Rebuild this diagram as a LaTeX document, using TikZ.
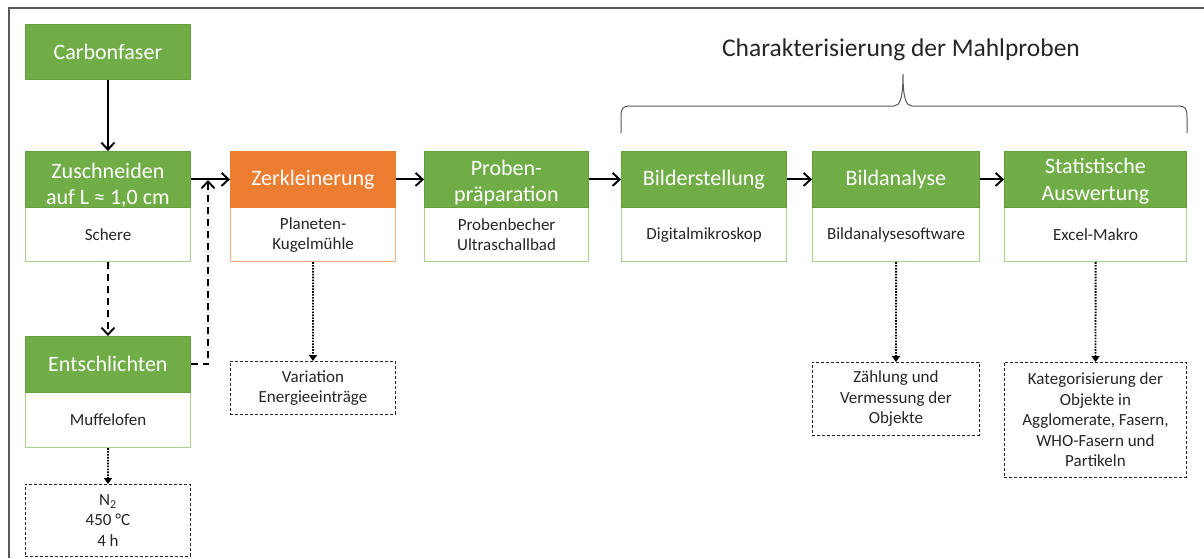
\documentclass[tikz,border=0pt]{standalone}
\usepackage{fontspec}
\setmainfont{Carlito}
\usetikzlibrary{arrows.meta}
\definecolor{cgreen}{HTML}{70AD47}
\definecolor{cgreenD}{HTML}{64A03E}
\definecolor{cgreenL}{HTML}{A9D18E}
\definecolor{corange}{HTML}{ED7D31}
\definecolor{corangeL}{HTML}{F4B183}
\definecolor{ctext}{HTML}{262626}
\definecolor{cframe}{HTML}{595959}
\tikzset{
  hdr/.style={rectangle, anchor=north west, fill=cgreen, draw=cgreenD, line width=0.8pt,
    text=white, font=\fontsize{22}{26.5}\selectfont, align=center, inner sep=0pt, minimum height=56pt},
  hdrorange/.style={hdr, fill=corange, draw=corange},
  subbox/.style={rectangle, anchor=north west, fill=white, draw=cgreenL, line width=1.2pt,
    text=ctext, font=\fontsize{17}{20}\selectfont, align=center, inner sep=0pt, minimum height=54pt},
  subboxorange/.style={subbox, draw=corangeL},
  note/.style={rectangle, anchor=north west, draw=ctext, line width=0.9pt, dash pattern=on 3pt off 2pt,
    text=ctext, font=\fontsize{17}{20.5}\selectfont, align=center, inner sep=0pt},
  arr/.style={line width=1.9pt, -{Straight Barb[length=7pt,width=13pt]}},
  darr/.style={arr, dash pattern=on 7pt off 5pt},
  parr/.style={line width=1.9pt, dash pattern=on 1.6pt off 1.3pt, -{Triangle[length=6pt,width=8pt]}},
  bracestyle/.style={line width=1pt, draw=cframe},
  titlestyle/.style={text=ctext, font=\fontsize{25.5}{30}\selectfont, inner sep=0pt},
  framestyle/.style={line width=1.3pt, draw=cframe},
}
\begin{document}
\begin{tikzpicture}[x=1pt, y=-1pt]
\useasboundingbox (0,0) rectangle (1204,558);
\draw[framestyle] (9,558) -- (9,8) -- (1204,8);

% left column
\node[hdr, minimum width=165pt, minimum height=55pt] (carbon) at (25,24) {Carbonfaser};
\node[subbox, minimum width=165pt] (zuschS) at (25,207) {Schere};
\node[hdr, minimum width=165pt] (zusch) at (25,151) {\raisebox{-6pt}[\height][\depth]{\parbox{160pt}{\centering Zuschneiden\\auf L ≈ 1,0 cm}}};
\node[subbox, minimum width=165pt, minimum height=55pt] (entS) at (25,392) {Muffelofen};
\node[hdr, minimum width=165pt] (ent) at (25,336) {Entschlichten};
\node[note, minimum width=165pt, minimum height=72pt] (n2) at (25,484) {N\textsubscript{2}\\450 °C\\4 h};

% Zerkleinerung
\node[subboxorange, minimum width=165pt] (zerkS) at (230,207) {Planeten-\\Kugelmühle};
\node[hdrorange, minimum width=165pt] (zerk) at (230,151) {Zerkleinerung};
\node[note, minimum width=165pt, minimum height=53pt] (var) at (230,361) {Variation\\Energieeinträge};

% Probenpräparation
\node[subbox, minimum width=164pt] (probS) at (424,207) {Probenbecher\\Ultraschallbad};
\node[hdr, minimum width=164pt] (prob) at (424,151) {\raisebox{-3pt}[\height][\depth]{\parbox{160pt}{\centering Proben-\\präparation}}};

% Bilderstellung
\node[subbox, minimum width=165pt] (bildS) at (621,207) {Digitalmikroskop};
\node[hdr, minimum width=165pt] (bild) at (621,151) {Bilderstellung};

% Bildanalyse
\node[subbox, minimum width=167pt] (banaS) at (812,207) {Bildanalysesoftware};
\node[hdr, minimum width=167pt] (bana) at (812,151) {Bildanalyse};
\node[note, minimum width=167pt, minimum height=73pt] (zahl) at (812,362) {Zählung und\\Vermessung der\\Objekte};

% Statistische Auswertung
\node[subbox, minimum width=182pt] (statS) at (1004,207) {Excel-Makro};
\node[hdr, minimum width=182pt] (stat) at (1004,151) {\raisebox{-2pt}[\height][\depth]{\parbox{178pt}{\centering Statistische\\Auswertung}}};
\node[note, minimum width=182pt, minimum height=115pt] (kat) at (1004,362) {Kategorisierung der\\Objekte in\\Agglomerate, Fasern,\\WHO-Fasern und\\Partikeln};

% brace and title
\draw[bracestyle] (621,133) -- (621,118) .. controls (621,108) and (622,106) .. (631,106)
  -- (894,106) .. controls (900,106) and (903,98) .. (903,74)
  .. controls (903,98) and (906,106) .. (912,106)
  -- (1177,106) .. controls (1186,106) and (1187,108) .. (1187,118) -- (1187,133);
\node[titlestyle] (title) at (901,50) {Charakterisierung der Mahlproben};

% connectors
\draw[arr] (carbon) -- (zusch);
\draw[arr] (zusch) -- (zerk);
\draw[arr] (zerk) -- (prob);
\draw[arr] (prob) -- (bild);
\draw[arr] (bild) -- (bana);
\draw[arr] (bana) -- (stat);
\draw[darr] (zuschS) -- (ent);
\coordinate (merge) at (208,180);
\draw[darr] (ent.east) -| (merge);
\draw[parr] (entS) -- (n2);
\draw[parr] (zerkS) -- (var);
\draw[parr] (banaS) -- (zahl);
\draw[parr] (statS) -- (kat);
\end{tikzpicture}
\end{document}
